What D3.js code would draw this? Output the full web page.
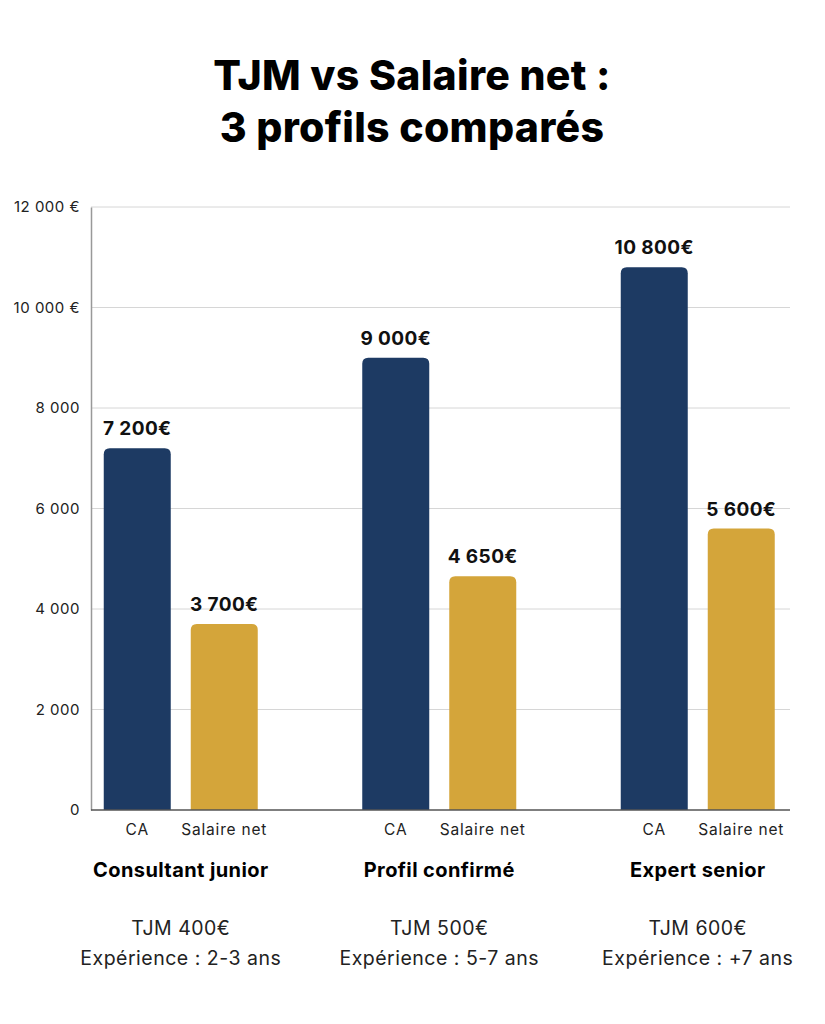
<!DOCTYPE html>
<html>
<head>
<meta charset="utf-8">
<script src="https://cdn.jsdelivr.net/npm/d3@7"></script>
<style>
  body { margin: 0; background: #fff; }
  text { font-family: "Inter", "Noto Sans", sans-serif; }
</style>
</head>
<body>
<script>
// data
var profiles = ["Consultant junior", "Profil confirmé", "Expert senior"];
var tjmLines = ["TJM 400€", "TJM 500€", "TJM 600€"];
var expLines = ["Expérience : 2-3 ans", "Expérience : 5-7 ans", "Expérience : +7 ans"];
var series = ["CA", "Salaire net"];
var caValues = [7200, 9000, 10800];
var salaireValues = [3700, 4650, 5600];
var valueLabels = [["7 200€", "3 700€"], ["9 000€", "4 650€"], ["10 800€", "5 600€"]];
var tickValues = [0, 2000, 4000, 6000, 8000, 10000, 12000];
var tickLabels = ["0", "2 000", "4 000", "6 000", "8 000", "10 000 €", "12 000 €"];

var width = 825, height = 1024;
var colors = { "CA": "#1d3a63", "Salaire net": "#d4a53a" };

var svg = d3.select("body").append("svg")
    .attr("width", width)
    .attr("height", height);

svg.append("rect").attr("width", width).attr("height", height).attr("fill", "#fff");

// title
var title = svg.append("text")
    .attr("text-anchor", "middle")
    .style("font-size", "41px")
    .style("font-weight", "800")
    .style("letter-spacing", "0.3px")
    .style("fill", "#000");
title.append("tspan").attr("x", 412).attr("y", 90).text("TJM vs Salaire net :");
title.append("tspan").attr("x", 412).attr("y", 142).text("3 profils comparés");

var y = d3.scaleLinear().domain([0, 12000]).range([810, 207]);

var x0 = d3.scaleBand().domain(profiles).range([51.5, 827]);
var x1 = d3.scaleBand().domain(series).range([-77, 77]).paddingInner(20 / 87).paddingOuter(0);

// grid lines
svg.append("g")
    .selectAll("line")
    .data(tickValues.filter(function(d) { return d > 0; }))
    .enter().append("line")
    .attr("x1", 91).attr("x2", 790)
    .attr("y1", function(d) { return y(d); })
    .attr("y2", function(d) { return y(d); })
    .style("stroke", "#d6d6d6")
    .style("stroke-width", 1);

// y axis
var yAxis = d3.axisLeft(y)
    .tickValues(tickValues)
    .tickSize(0)
    .tickPadding(11)
    .tickFormat(function(d, i) { return tickLabels[i]; });

var gy = svg.append("g").attr("transform", "translate(91,0)").call(yAxis);
gy.select(".domain").style("stroke", "#999").style("stroke-width", 1.5);
gy.selectAll("text")
    .style("font-size", "15px")
    .style("letter-spacing", "0.5px")
    .style("font-family", "Inter, 'Noto Sans', sans-serif")
    .style("fill", "#222");

// bars
var rows = profiles.map(function(p, i) {
    return { profile: p, i: i, values: [caValues[i], salaireValues[i]] };
});

function topRounded(x, yTop, w, h, r) {
    return "M" + x + "," + (yTop + h) +
        "V" + (yTop + r) +
        "Q" + x + "," + yTop + " " + (x + r) + "," + yTop +
        "H" + (x + w - r) +
        "Q" + (x + w) + "," + yTop + " " + (x + w) + "," + (yTop + r) +
        "V" + (yTop + h) + "Z";
}

var groups = svg.append("g")
    .selectAll("g")
    .data(rows)
    .enter().append("g")
    .attr("transform", function(d) { return "translate(" + (x0(d.profile) + x0.bandwidth() / 2) + ",0)"; });

function barData(d) {
    return series.map(function(s, j) { return { s: s, v: d.values[j], label: valueLabels[d.i][j] }; });
}

groups.selectAll("path")
    .data(barData)
    .enter().append("path")
    .attr("d", function(d) {
        return topRounded(x1(d.s), y(d.v), x1.bandwidth(), y(0) - y(d.v), 6);
    })
    .style("fill", function(d) { return colors[d.s]; });

groups.selectAll("text.val")
    .data(barData)
    .enter().append("text")
    .attr("class", "val")
    .attr("x", function(d) { return x1(d.s) + x1.bandwidth() / 2; })
    .attr("y", function(d) { return y(d.v) - 13; })
    .attr("text-anchor", "middle")
    .style("font-size", "19px")
    .style("font-weight", "700")
    .style("letter-spacing", "0.4px")
    .style("fill", "#111")
    .text(function(d) { return d.label; });

groups.selectAll("text.ser")
    .data(series)
    .enter().append("text")
    .attr("class", "ser")
    .attr("x", function(d) { return x1(d) + x1.bandwidth() / 2; })
    .attr("y", 835)
    .attr("text-anchor", "middle")
    .style("font-size", "15.5px")
    .style("letter-spacing", "0.8px")
    .style("fill", "#222")
    .text(function(d) { return d; });

groups.append("text")
    .attr("y", 877)
    .attr("text-anchor", "middle")
    .style("font-size", "20px")
    .style("font-weight", "700")
    .style("letter-spacing", "0.4px")
    .style("fill", "#000")
    .text(function(d) { return d.profile; });

groups.append("text")
    .attr("y", 935)
    .attr("text-anchor", "middle")
    .style("font-size", "19.5px")
    .style("letter-spacing", "0.5px")
    .style("fill", "#222")
    .text(function(d) { return tjmLines[d.i]; });

groups.append("text")
    .attr("y", 965)
    .attr("text-anchor", "middle")
    .style("font-size", "19.5px")
    .style("letter-spacing", "0.5px")
    .style("fill", "#222")
    .text(function(d) { return expLines[d.i]; });

// baseline
svg.append("line")
    .attr("x1", 91).attr("x2", 790)
    .attr("y1", y(0)).attr("y2", y(0))
    .style("stroke", "#555")
    .style("stroke-width", 1.5);
</script>
</body>
</html>
